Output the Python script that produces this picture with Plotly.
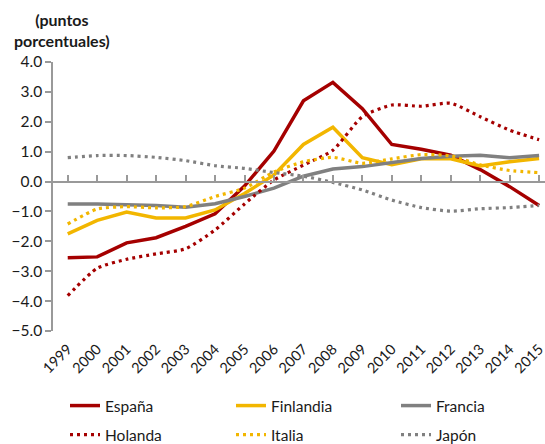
import plotly.graph_objects as go

years = list(range(1999, 2016))
espana =    [-2.55, -2.52, -2.05, -1.88, -1.50, -1.08, -0.15, 1.02, 2.70, 3.32, 2.44, 1.24, 1.08, 0.88, 0.40, -0.17, -0.80]
finlandia = [-1.75, -1.30, -1.02, -1.22, -1.22, -0.95, -0.40, 0.22, 1.24, 1.82, 0.80, 0.56, 0.76, 0.76, 0.52, 0.66, 0.77]
francia =   [-0.75, -0.75, -0.78, -0.80, -0.86, -0.74, -0.50, -0.22, 0.18, 0.42, 0.50, 0.63, 0.77, 0.85, 0.88, 0.80, 0.87]
holanda =   [-3.82, -2.90, -2.60, -2.42, -2.25, -1.62, -0.75, 0.05, 0.55, 1.05, 2.17, 2.56, 2.52, 2.62, 2.17, 1.72, 1.40]
italia =    [-1.42, -0.92, -0.84, -0.88, -0.84, -0.50, -0.22, 0.32, 0.66, 0.81, 0.61, 0.76, 0.90, 0.86, 0.56, 0.37, 0.30]
japon =     [0.80, 0.87, 0.87, 0.81, 0.70, 0.53, 0.44, 0.30, 0.18, -0.03, -0.28, -0.62, -0.87, -0.99, -0.91, -0.87, -0.80]

RED = "#A50000"
GOLD = "#F2B600"
GRAY = "#808080"
FONT = "Lato"
TXT = "#1a1a1a"
W, H = 545, 444

fig = go.Figure()

series = [
    ("España", espana, RED, False),
    ("Finlandia", finlandia, GOLD, False),
    ("Francia", francia, GRAY, False),
    ("Holanda", holanda, RED, True),
    ("Italia", italia, GOLD, True),
    ("Japón", japon, GRAY, True),
]

# legend slot positions (pixels): columns for text start, rows for centre
col_px = [65, 231, 396]
row_px = [406, 435]

legend_layout = {}
for i, (name, vals, color, dotted) in enumerate(series):
    lname = "legend" if i == 0 else f"legend{i+1}"
    fig.add_trace(go.Scatter(
        x=years, y=vals, name=name, mode="lines",
        line=dict(color=color, width=3.5 if not dotted else 3.2,
                  dash="3px,4px" if dotted else "solid",
                  shape="spline" if dotted else "linear", smoothing=0.6),
        legend=lname, xaxis="x"))
    r, c = divmod(i, 3)
    legend_layout[lname] = dict(
        xref="container", yref="container",
        x=col_px[c] / W, y=1 - row_px[r] / H,
        xanchor="left", yanchor="middle",
        font=dict(size=15.5, color=TXT), bgcolor="rgba(0,0,0,0)")

# invisible trace to bring the zero-line axis with ticks
fig.add_trace(go.Scatter(x=years, y=[0]*len(years), xaxis="x2", mode="lines",
                         line=dict(width=0), showlegend=False, hoverinfo="skip"))

xr = [1998.5, 2015.2]
fig.update_layout(
    width=W, height=H,
    margin=dict(l=53, r=0, t=62, b=113, autoexpand=False),
    paper_bgcolor="white", plot_bgcolor="white",
    font=dict(family=FONT, size=14, color=TXT),
    showlegend=True,
    xaxis=dict(range=xr, tickvals=years, ticktext=[str(y) for y in years],
               tickangle=-45, showline=False, showgrid=False, zeroline=False,
               ticks="", ticklabelstandoff=6, ticklabeloverflow="allow",
               tickfont=dict(size=14.5, color=TXT)),
    xaxis2=dict(range=xr, overlaying="x", anchor="free", position=5/9,
                tickvals=years, showticklabels=False, showline=True,
                linecolor="#999999", linewidth=1.5, ticks="inside", ticklen=6,
                tickcolor="#999999", tickwidth=1.5, showgrid=False, zeroline=False),
    yaxis=dict(range=[-5, 4], dtick=1, tickformat=".1f", showgrid=False,
               zeroline=False, showline=True, linecolor="#999999", linewidth=1.5,
               ticks="outside", ticklen=6, tickcolor="#999999", tickwidth=1.5,
               tickfont=dict(size=15.5, color=TXT)),
    annotations=[dict(text="<b>(puntos<br>porcentuales)</b>", xref="paper", yref="paper",
                      x=0.018, y=1.0, xanchor="center", yanchor="bottom", yshift=10,
                      showarrow=False, align="center", font=dict(size=16, color=TXT))],
    **legend_layout,
)

fig.write_html("out.html", config={"displayModeBar": False},
               post_script="document.body.style.margin='0';")
